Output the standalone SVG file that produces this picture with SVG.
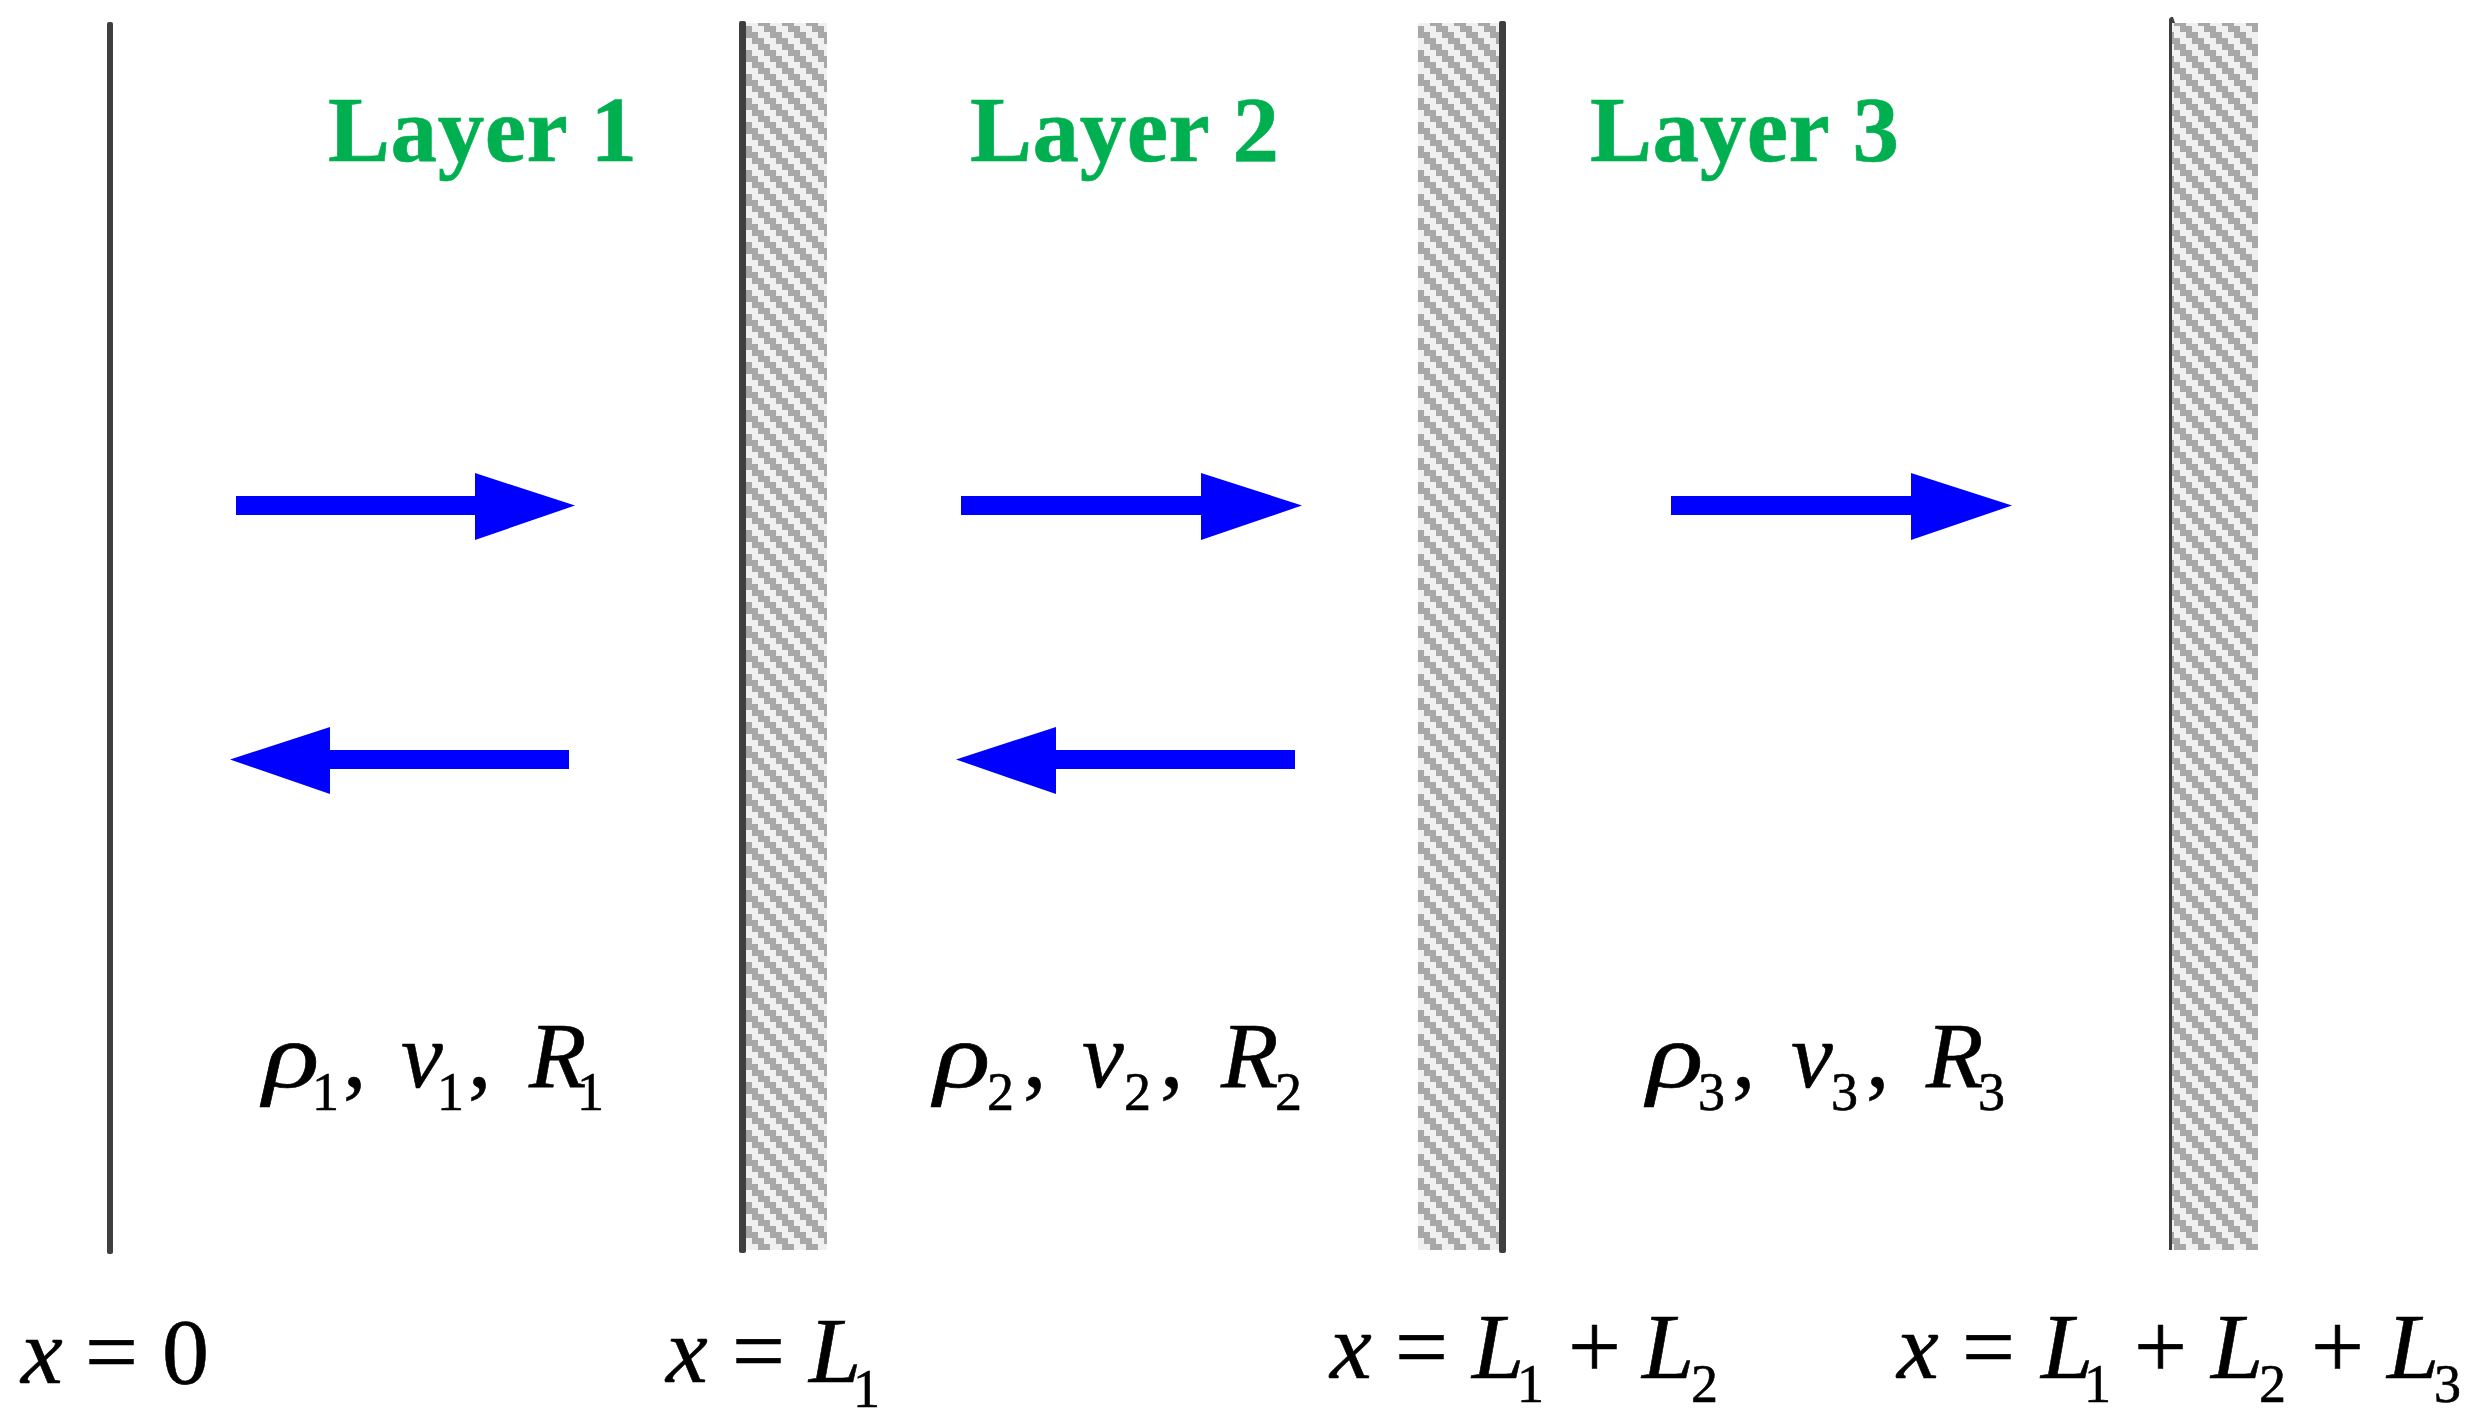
<svg xmlns="http://www.w3.org/2000/svg" width="2485" height="1422" viewBox="0 0 2485 1422">
<style>
.wall{fill:#3f3f3f}
.arrow{fill:#0000ff}
.layer{font:bold 93px "Liberation Serif","Times New Roman",serif;fill:#00b050;stroke:#00b050;stroke-width:.6px;letter-spacing:.55px}
.m{font:italic 94px "Liberation Serif","Times New Roman",serif;fill:#000;stroke:#000;stroke-width:.6px}
.r{font-style:normal}
.s{font-style:normal;font-size:54px}
</style>
<defs>
<pattern id="h1" patternUnits="userSpaceOnUse" width="24" height="24" x="746" y="26">
<rect width="24" height="24" fill="#f0f0f0"/>
<path d="M0 0h6v6H0zM18 0h6v6h-6zM0 6h12v6H0zM6 12h12v6H6zM12 18h12v6H12z" fill="#a8a8a8"/>
</pattern>
</defs>
<rect width="2485" height="1422" fill="#fff"/>
<g id="hatch-1"><rect x="746" y="23" width="81" height="1227" fill="url(#h1)"/></g>
<g id="hatch-2"><rect x="1418" y="23" width="81" height="1227" fill="url(#h1)"/></g>
<g id="hatch-3"><rect x="2172" y="23" width="86" height="1227" fill="url(#h1)"/></g>
<g id="wall-0"><rect class="wall" x="107" y="22" width="6" height="1232" rx="2"/></g>
<g id="wall-1"><rect class="wall" x="739" y="21" width="7" height="1232" rx="2"/></g>
<g id="wall-2"><rect class="wall" x="1499" y="21" width="7" height="1232" rx="2"/></g>
<g id="wall-3"><path class="wall" d="M2169 1250V19L2171 17H2173L2175 23H2172V1250Z"/></g>
<g id="connectors">
<path class="arrow" d="M236 496H475V473L575 505.500 475 540V515H236Z"/>
<path class="arrow" d="M961 496H1201V473L1302 505.500 1201 540V515H961Z"/>
<path class="arrow" d="M1671 496H1911V473L2012 505.500 1911 540V515H1671Z"/>
<path class="arrow" d="M569 750H330V727L230 759.500 330 794V769H569Z"/>
<path class="arrow" d="M1295 750H1056V727L956 759.500 1056 794V769H1295Z"/>
</g>
<g id="layer-1"><text class="layer" x="328" y="161">Layer 1</text></g>
<g id="layer-2"><text class="layer" x="970" y="161">Layer 2</text></g>
<g id="layer-3"><text class="layer" x="1590" y="161">Layer 3</text></g>
<g id="props-1"><text class="m" transform="translate(263 1087) scale(1.25 1)">ρ</text><text class="m" y="1087"><tspan class="s" x="312" y="1110">1</tspan><tspan class="r" x="343" y="1087">,</tspan><tspan x="401">v</tspan><tspan class="s" x="437" y="1110">1</tspan><tspan class="r" x="468" y="1087">,</tspan><tspan x="529">R</tspan><tspan class="s" x="577" y="1110">1</tspan></text></g>
<g id="props-2"><text class="m" transform="translate(934 1087) scale(1.25 1)">ρ</text><text class="m" y="1087"><tspan class="s" x="987" y="1110">2</tspan><tspan class="r" x="1023" y="1087">,</tspan><tspan x="1082">v</tspan><tspan class="s" x="1124" y="1110">2</tspan><tspan class="r" x="1160" y="1087">,</tspan><tspan x="1221">R</tspan><tspan class="s" x="1275" y="1110">2</tspan></text></g>
<g id="props-3"><text class="m" transform="translate(1647 1087) scale(1.25 1)">ρ</text><text class="m" y="1087"><tspan class="s" x="1698" y="1110">3</tspan><tspan class="r" x="1732" y="1087">,</tspan><tspan x="1791">v</tspan><tspan class="s" x="1831" y="1110">3</tspan><tspan class="r" x="1866" y="1087">,</tspan><tspan x="1926">R</tspan><tspan class="s" x="1978" y="1110">3</tspan></text></g>
<g id="pos-0"><text class="m" y="1383"><tspan x="21">x</tspan><tspan class="r" x="85">=</tspan><tspan class="r" x="162">0</tspan></text></g>
<g id="pos-1"><text class="m" y="1382"><tspan x="666">x</tspan><tspan class="r" x="732">=</tspan><tspan x="809">L</tspan><tspan class="s" x="853" y="1407">1</tspan></text></g>
<g id="pos-2"><text class="m" y="1378"><tspan x="1330">x</tspan><tspan class="r" x="1395">=</tspan><tspan x="1472">L</tspan><tspan class="s" x="1517" y="1402">1</tspan><tspan class="r" x="1568" y="1378">+</tspan><tspan x="1642">L</tspan><tspan class="s" x="1691" y="1402">2</tspan></text></g>
<g id="pos-3"><text class="m" y="1378"><tspan x="1897">x</tspan><tspan class="r" x="1962">=</tspan><tspan x="2041">L</tspan><tspan class="s" x="2084" y="1402">1</tspan><tspan class="r" x="2134" y="1378">+</tspan><tspan x="2211">L</tspan><tspan class="s" x="2259" y="1402">2</tspan><tspan class="r" x="2311" y="1378">+</tspan><tspan x="2387">L</tspan><tspan class="s" x="2434" y="1402">3</tspan></text></g>
</svg>
